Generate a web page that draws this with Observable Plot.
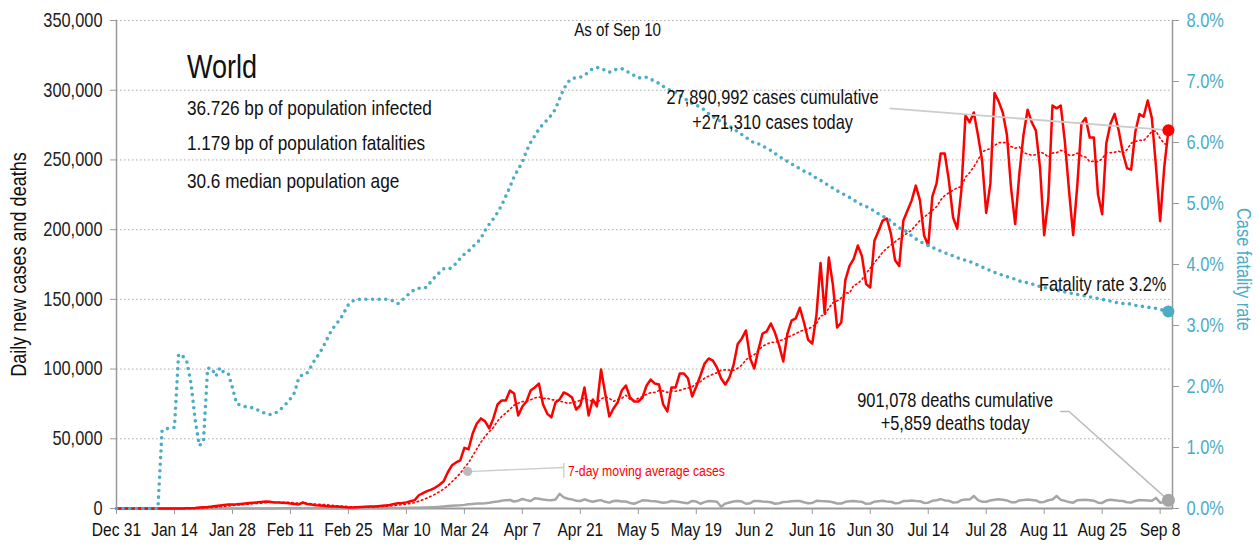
<!DOCTYPE html>
<html><head><meta charset="utf-8">
<script src="https://cdn.jsdelivr.net/npm/d3@7"></script>
<script src="https://cdn.jsdelivr.net/npm/@observablehq/plot@0.6"></script>
<style>
html,body{margin:0;padding:0;background:#fff;}
#chart{width:1257px;height:546px;}
</style></head><body><div id="chart"></div>
<script>
// ---- data (daily, Dec 31 2019 .. Sep 10 2020) ----
const startDate = "2019-12-31";
const cases = [
0,0,0,0,0,0,0,0,0,0,
0,0,0,0,0,0,50,100,200,400,
700,900,1100,1400,1800,2200,2600,2900,2900,3000,
3300,3600,3900,4200,4400,4700,5000,4800,4300,4300,
4200,4000,3600,3300,2900,4300,3200,2800,2400,2200,
1900,1700,1500,1400,1200,1000,800,700,900,1100,
1300,1400,1500,1700,1900,2200,2500,3300,3800,4000,
4400,5200,6000,9500,11000,12500,13500,15000,17000,19500,
26000,31000,33000,34500,43500,42500,53800,61000,64600,62500,
57400,64600,74600,77500,77500,84600,82500,66700,73200,76700,
84600,86800,89600,74600,68100,65300,76000,78200,83200,81800,
79600,71000,73900,86800,66700,78200,73200,99700,82500,66000,
71700,76000,84600,88200,79600,76700,76700,79600,88200,92500,
89600,88900,74600,69600,86800,86800,96800,96800,93200,80300,
87500,95400,104000,107600,106000,101000,93200,88900,94000,103000,
118000,122000,127700,107600,100400,114000,125500,127000,132700,126000,
117000,105400,125500,134800,136300,144000,133400,121000,118300,138400,
176000,139800,180000,160000,129800,133400,164000,174000,179000,188600,
181000,161000,158500,192000,199000,206500,208000,197000,178000,174000,
206500,213700,221000,231600,221000,195800,188600,223800,233000,254600,
254600,235000,208700,200800,228000,282000,277000,284000,268000,250000,
212000,233000,298000,292000,284000,268000,230000,204000,240000,268000,
286000,277000,271000,244000,196000,222000,289000,287000,289000,263000,
228000,196000,232000,276000,280000,266000,266000,225000,211000,262000,
276000,283000,271000,255000,244000,243000,270000,283000,281000,292600,
280000,245000,206000,245000,271310];
const deaths = [
0,0,0,0,0,0,0,0,0,0,
0,0,0,0,0,0,0,0,0,0,
0,10,20,20,30,40,50,60,30,40,
45,50,60,65,70,75,80,85,90,95,
100,105,110,100,250,140,140,140,100,110,
100,110,80,70,60,70,70,80,90,80,
100,110,120,150,200,250,280,300,350,400,
420,470,550,600,700,800,900,1000,1200,1500,
1800,2000,2200,2300,2600,3000,3300,3500,3600,3800,
4200,4700,5000,5500,6000,6100,5000,5600,6800,6000,
5400,7400,7000,6500,6100,5900,6500,10500,8000,7000,
6500,5500,5400,6600,5600,4900,5600,6000,4800,4200,
5400,5500,5000,5000,4000,3400,4600,5900,5800,5400,
5200,4700,4200,4500,5400,5000,4600,4200,3800,5400,
5000,3400,4600,5400,5200,4800,1300,3500,4300,5000,
5400,5000,3400,3800,5400,5300,5000,4900,4500,3400,
3800,4700,4900,5200,5300,5400,4500,3800,4000,5500,
5300,5200,5000,4500,3600,3500,4800,5200,5400,5000,
4800,3400,3600,4900,5200,5500,5100,4800,3800,4000,
5300,5400,5700,5400,5200,4000,4200,5500,5900,6700,
5800,5500,4300,4400,6000,6400,6400,9000,6000,4900,
4800,5800,6300,6600,6200,5800,4500,4400,5800,6100,
6400,6100,5800,4400,4700,5900,6500,9000,6200,5500,
4600,4200,5900,6100,6200,5900,5600,4200,4000,5700,
6300,6000,5600,5400,4500,4300,5400,6100,6000,5800,
5500,7600,4200,4600,5859];
const fatalityRatePct = [
0,0,0,0,0,0,0,0,0,0,
0,1.28,1.31,1.31,1.33,2.53,2.50,2.40,2.05,1.45,
1.03,1.10,2.30,2.30,2.17,2.31,2.22,2.21,1.98,1.72,
1.69,1.67,1.66,1.65,1.62,1.58,1.56,1.54,1.55,1.59,
1.65,1.72,1.80,1.90,2.14,2.20,2.22,2.33,2.45,2.54,
2.66,2.80,2.93,3.02,3.10,3.22,3.34,3.40,3.43,3.43,
3.43,3.43,3.43,3.43,3.43,3.43,3.42,3.40,3.36,3.42,
3.48,3.54,3.59,3.61,3.61,3.63,3.73,3.80,3.87,3.93,
3.92,3.95,4.02,4.10,4.17,4.22,4.29,4.35,4.43,4.56,
4.66,4.75,4.85,4.97,5.12,5.27,5.44,5.56,5.68,5.86,
6.00,6.11,6.22,6.30,6.37,6.45,6.55,6.72,6.88,6.99,
7.05,7.06,7.07,7.10,7.16,7.21,7.23,7.22,7.18,7.15,
7.19,7.20,7.21,7.18,7.13,7.10,7.06,7.06,7.07,7.04,
7.00,6.97,6.92,6.88,6.85,6.82,6.78,6.72,6.69,6.64,
6.61,6.58,6.53,6.47,6.42,6.39,6.34,6.31,6.27,6.22,
6.18,6.13,6.08,6.04,5.99,5.98,5.94,5.91,5.87,5.82,
5.77,5.73,5.69,5.65,5.61,5.57,5.53,5.50,5.47,5.41,
5.38,5.34,5.29,5.25,5.21,5.17,5.14,5.10,5.06,5.01,
4.98,4.95,4.92,4.87,4.83,4.79,4.76,4.71,4.65,4.60,
4.57,4.53,4.47,4.42,4.38,4.34,4.31,4.28,4.25,4.22,
4.19,4.17,4.14,4.11,4.09,4.07,4.05,4.02,3.99,3.96,
3.93,3.90,3.87,3.85,3.82,3.80,3.78,3.76,3.73,3.71,
3.70,3.68,3.66,3.64,3.62,3.61,3.59,3.58,3.56,3.55,
3.54,3.52,3.51,3.50,3.48,3.47,3.46,3.44,3.43,3.41,
3.40,3.38,3.37,3.36,3.36,3.35,3.33,3.32,3.31,3.30,
3.29,3.28,3.26,3.25,3.23];

// ---- ticks & labels ----
const xTickDates = ["2019-12-31","2020-01-14","2020-01-28","2020-02-11","2020-02-25","2020-03-10","2020-03-24",
  "2020-04-07","2020-04-21","2020-05-05","2020-05-19","2020-06-02","2020-06-16","2020-06-30","2020-07-14",
  "2020-07-28","2020-08-11","2020-08-25","2020-09-08"];
const leftTicks = [0,50000,100000,150000,200000,250000,300000,350000];
const rightTicksPct = [0,1,2,3,4,5,6,7,8];
const titleText = "World";
const statLines = ["36.726 bp of population infected","1.179 bp of population fatalities","30.6 median population age"];
const asOfText = "As of Sep 10";
const leftLabel = "Daily new cases and deaths";
const rightLabel = "Case fatality rate";
const casesNote = ["27,890,992 cases cumulative","+271,310 cases today"];
const deathsNote = ["901,078 deaths cumulative","+5,859 deaths today"];
const rateNote = "Fatality rate 3.2%";
const maNote = "7-day moving average cases";

// ---- build table ----
const D = s => new Date(s + "T00:00:00Z");
const t0 = D(startDate);
const rows = cases.map((c, i) => ({date: d3.utcDay.offset(t0, i), cases: c, deaths: deaths[i], cfr: fatalityRatePct[i]}));
const last = rows[rows.length - 1];
const K = 350000 / 8; // 1% of fatality rate in left-axis units
const RED = "#ff0000", TEAL = "#4bacc6", GRAY = "#a6a6a6";
const FONT = "'Liberation Sans',Arimo,Arial,sans-serif";

const textRows = [
  {date: D("2020-01-17"), v: 316000, t: titleText, size: 33},
  {date: D("2020-01-17"), v: 287000, t: statLines[0], size: 21},
  {date: D("2020-01-17"), v: 262000, t: statLines[1], size: 21},
  {date: D("2020-01-17"), v: 235000, t: statLines[2], size: 21}
];
const centerNotes = [
  {date: D("2020-04-30"), v: 343000, t: asOfText, size: 18.5},
  {date: new Date(Date.UTC(2020,5,6,10)), v: 295000, t: casesNote[0], size: 20},
  {date: new Date(Date.UTC(2020,5,6,10)), v: 277000, t: casesNote[1], size: 20},
  {date: new Date(Date.UTC(2020,6,20,12)), v: 77500, t: deathsNote[0], size: 20},
  {date: new Date(Date.UTC(2020,6,20,12)), v: 61000, t: deathsNote[1], size: 20}
];

const chart = Plot.plot({
  width: 1257, height: 546,
  marginLeft: 116, marginRight: 85, marginTop: 20, marginBottom: 38,
  style: {fontFamily: FONT, fontSize: "19px", color: "#111", background: "#fff"},
  x: {type: "utc", domain: [t0, new Date(Date.UTC(2020,8,10,12))], insetRight: 2},
  y: {domain: [0, 350000]},
  marks: [
    Plot.gridY({ticks: leftTicks.filter(v => v > 0), stroke: "#aaa", strokeOpacity: 1, strokeDasharray: "1.5,2.5"}),
    Plot.axisY({anchor: "left", ticks: leftTicks, tickFormat: d3.format(","), tickSize: 6, tickPadding: 8,
      stroke: "#999", fill: "#222", fontSize: 20, label: null}),
    Plot.axisY({anchor: "right", ticks: rightTicksPct.map(p => p * K), tickFormat: v => (v / K).toFixed(1) + "%",
      tickSize: 6, tickPadding: 8, stroke: "#999", fill: TEAL, fontSize: 20, label: null}),
    Plot.axisX({ticks: xTickDates.map(D), tickFormat: d3.utcFormat("%b %-d"), tickSize: 6, tickPadding: 8,
      stroke: "#999", fill: "#111", fontSize: 19, label: null}),
    Plot.frame({anchor: "left", stroke: "#999", strokeWidth: 1.5}),
    Plot.frame({anchor: "right", stroke: "#999", strokeWidth: 1.5}),
    Plot.ruleY([0], {stroke: "#999", strokeWidth: 2}),
    Plot.text([leftLabel], {frameAnchor: "left", textAnchor: "middle", rotate: -90, dx: -98, fontSize: 22, fill: "#111"}),
    Plot.text([rightLabel], {frameAnchor: "right", textAnchor: "middle", rotate: 90, dx: 71, dy: 5, fontSize: 20, fill: TEAL}),
    // deaths
    Plot.lineY(rows, {x: "date", y: "deaths", stroke: GRAY, strokeWidth: 2.5}),
    // 7-day moving average of cases
    Plot.lineY(rows, Plot.windowY({k: 7, anchor: "end", reduce: "mean"},
      {x: "date", y: "cases", stroke: RED, strokeWidth: 1.6, strokeDasharray: "1.5,3"})),
    // daily cases
    Plot.lineY(rows, {x: "date", y: "cases", stroke: RED, strokeWidth: 2.5}),
    // case fatality rate
    Plot.lineY(rows, {x: "date", y: d => d.cfr * K, stroke: TEAL, strokeWidth: 3.6, strokeDasharray: "0,6.6", strokeLinecap: "round"}),
    // leaders
    Plot.link([{x1: new Date(Date.UTC(2020,6,4,17)), y1: 287000, x2: last.date, y2: last.cases}],
      {x1: "x1", y1: "y1", x2: "x2", y2: "y2", stroke: "#ccc", strokeWidth: 1.8}),
    Plot.line([{d: new Date(Date.UTC(2020,7,15)), v: 69600}, {d: new Date(Date.UTC(2020,7,17)), v: 69600}, {d: last.date, v: last.deaths}],
      {x: "d", y: "v", stroke: "#bbb", strokeWidth: 1.5}),
    Plot.link([{x1: new Date(Date.UTC(2020,2,24,19)), y1: 26500, x2: D("2020-04-17"), y2: 29400}],
      {x1: "x1", y1: "y1", x2: "x2", y2: "y2", stroke: "#ccc", strokeWidth: 1.3}),
    Plot.ruleX([D("2020-04-17")], {y1: 21500, y2: 32300, stroke: "#ccc", strokeWidth: 1.3}),
    Plot.dot([{d: new Date(Date.UTC(2020,2,24,19)), v: 26500}], {x: "d", y: "v", r: 4.5, fill: "#bbb"}),
    // end dots
    Plot.dot([last], {x: "date", y: "cases", r: 6, fill: RED}),
    Plot.dot([last], {x: "date", y: "deaths", r: 6.5, fill: GRAY}),
    Plot.dot([last], {x: "date", y: d => d.cfr * K, r: 6, fill: TEAL}),
    // texts
    Plot.text(textRows, {x: "date", y: "v", text: "t", fontSize: d => d.size, textAnchor: "start", fill: "#111"}),
    Plot.text(centerNotes, {x: "date", y: "v", text: "t", fontSize: d => d.size, textAnchor: "middle", fill: "#111"}),
    Plot.text([{d: new Date(Date.UTC(2020,8,9,12)), v: 160600, t: rateNote}], {x: "d", y: "v", text: "t", fontSize: 20, textAnchor: "end", fill: "#111"}),
    Plot.text([{d: D("2020-04-18"), v: 26500, t: maNote}], {x: "d", y: "v", text: "t", fontSize: 15, textAnchor: "start", fill: RED})
  ]
});
document.getElementById("chart").appendChild(chart);

// Narrow the (Arial-metric) typeface to a condensed width around each text's anchor point.
function condense(svg, s) {
  const pt = svg.createSVGPoint();
  for (const el of Array.from(svg.querySelectorAll("text"))) {
    const tr = (el.getAttribute("transform") || "") + (el.parentNode.getAttribute("transform") || "");
    const rot = /rotate\(\s*-?90/.test(tr);
    const r = el.getBoundingClientRect();
    const anchor = getComputedStyle(el).textAnchor;
    let sx = (r.left + r.right) / 2, sy = (r.top + r.bottom) / 2;
    if (!rot) sx = anchor === "start" ? r.left : anchor === "end" ? r.right : sx;
    pt.x = sx; pt.y = sy;
    const p = pt.matrixTransform(el.parentNode.getScreenCTM().inverse());
    const g = document.createElementNS("http://www.w3.org/2000/svg", "g");
    g.setAttribute("transform", rot
      ? `translate(0,${p.y}) scale(1,${s}) translate(0,${-p.y})`
      : `translate(${p.x},0) scale(${s},1) translate(${-p.x},0)`);
    el.parentNode.insertBefore(g, el);
    g.appendChild(el);
  }
}
const svgEl = chart.tagName.toLowerCase() === "svg" ? chart : chart.querySelector("svg");
condense(svgEl, 0.82);
</script></body></html>
